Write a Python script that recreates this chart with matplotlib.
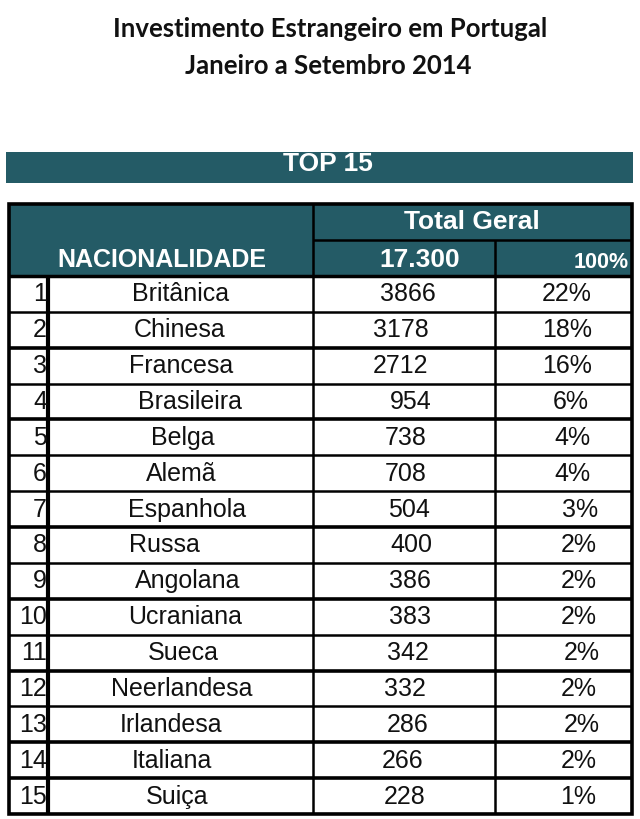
import matplotlib
matplotlib.use("Agg")
import matplotlib.pyplot as plt
from matplotlib.patches import Rectangle

# ---- data ----
title_lines = ["Investimento Estrangeiro em Portugal", "Janeiro a Setembro 2014"]
banner = "TOP 15"
col_header = "NACIONALIDADE"
group_header = "Total Geral"
total_value = "17.300"
total_pct = "100%"
ranks = list(range(1, 16))
nationalities = ["Britânica", "Chinesa", "Francesa", "Brasileira", "Belga", "Alemã",
                 "Espanhola", "Russa", "Angolana", "Ucraniana", "Sueca", "Neerlandesa",
                 "Irlandesa", "Italiana", "Suiça"]
values = [3866, 3178, 2712, 954, 738, 708, 504, 400, 386, 383, 342, 332, 286, 266, 228]
percents = ["22%", "18%", "16%", "6%", "4%", "4%", "3%", "2%", "2%", "2%", "2%", "2%", "2%", "2%", "1%"]

TEAL = "#245b66"
W, H = 640, 819
fig = plt.figure(figsize=(W / 100, H / 100), dpi=100)
ax = fig.add_axes([0, 0, 1, 1])
ax.set_xlim(0, W)
ax.set_ylim(H, 0)
ax.axis("off")

body_font = "Liberation Sans"

# titles
ax.text(330, 29, title_lines[0], ha="center", va="center", fontsize=18.5,
        fontweight="bold", family="Lato", color="#111111")
ax.text(328, 66, title_lines[1], ha="center", va="center", fontsize=18.5,
        fontweight="bold", family="Lato", color="#111111")

# banner
ax.add_patch(Rectangle((6, 152), 627, 31, facecolor=TEAL, edgecolor="none"))
ax.text(328, 164, banner, ha="center", va="center", fontsize=19, fontweight="bold",
        family=body_font, color="white")

# table geometry
x0, x1 = 9, 632
c_num, c_name, c_val, c_pct = 48, 313, 495, 632
y_top, y_mid, y_head = 204, 240, 276
y_bot = 814
row_h = (y_bot - y_head) / len(ranks)

# header background
ax.add_patch(Rectangle((x0, y_top), x1 - x0, y_head - y_top, facecolor=TEAL, edgecolor="none"))
ax.text(162, 260, col_header, ha="center", va="center", fontsize=18,
        fontweight="bold", family=body_font, color="white")
ax.text(472, 222, group_header, ha="center", va="center", fontsize=19,
        fontweight="bold", family=body_font, color="white")
ax.text(420, 260, total_value, ha="center", va="center", fontsize=19,
        fontweight="bold", family=body_font, color="white")
ax.text(629, 262, total_pct, ha="right", va="center", fontsize=15.5,
        fontweight="bold", family=body_font, color="white")

# header inner lines
ax.plot([c_name, c_name], [y_top, y_head], color="black", lw=1.8, solid_capstyle="butt")
ax.plot([c_name, x1], [y_mid, y_mid], color="black", lw=1.8, solid_capstyle="butt")
ax.plot([c_val, c_val], [y_mid, y_head], color="black", lw=1.8, solid_capstyle="butt")

# rows
name_x = [181, 180, 181, 190, 183, 181, 187, 164, 188, 185, 183, 182, 171, 172, 177]
val_x = [408, 401, 401, 411, 406, 406, 409, 411, 410, 410, 408, 405, 408, 403, 405]
pct_x = [567, 567, 567, 571, 572, 572, 580, 579, 579, 579, 582, 579, 582, 579, 578]
for i, (r, n, v, p) in enumerate(zip(ranks, nationalities, values, percents)):
    yc = y_head + row_h * (i + 0.5) + 0.5
    ax.text(47, yc, str(r), ha="right", va="center", fontsize=18, family=body_font, color="#111111")
    ax.text(name_x[i], yc, n, ha="center", va="center", fontsize=18, family=body_font, color="#111111")
    ax.text(val_x[i], yc, str(v), ha="center", va="center", fontsize=18, family=body_font, color="#111111")
    ax.text(pct_x[i], yc, p, ha="center", va="center", fontsize=18, family=body_font, color="#111111")
    if i > 0:
        yl = y_head + row_h * i
        lw = 2.6 if i in (2, 4, 7, 9, 11, 13, 14) else 1.8
        ax.plot([x0, x1], [yl, yl], color="black", lw=lw, solid_capstyle="butt")

# vertical lines in body
ax.plot([c_num, c_num], [y_head, y_bot], color="black", lw=3.0, solid_capstyle="butt")
for xc in (c_name, c_val):
    ax.plot([xc, xc], [y_head, y_bot], color="black", lw=1.8, solid_capstyle="butt")
ax.plot([x0, x1], [y_head, y_head], color="black", lw=2.5, solid_capstyle="butt")

# outer border
ax.add_patch(Rectangle((x0, y_top), x1 - x0, y_bot - y_top, facecolor="none",
                       edgecolor="black", lw=2.6))

fig.savefig("out.png", dpi=100, facecolor="white")
